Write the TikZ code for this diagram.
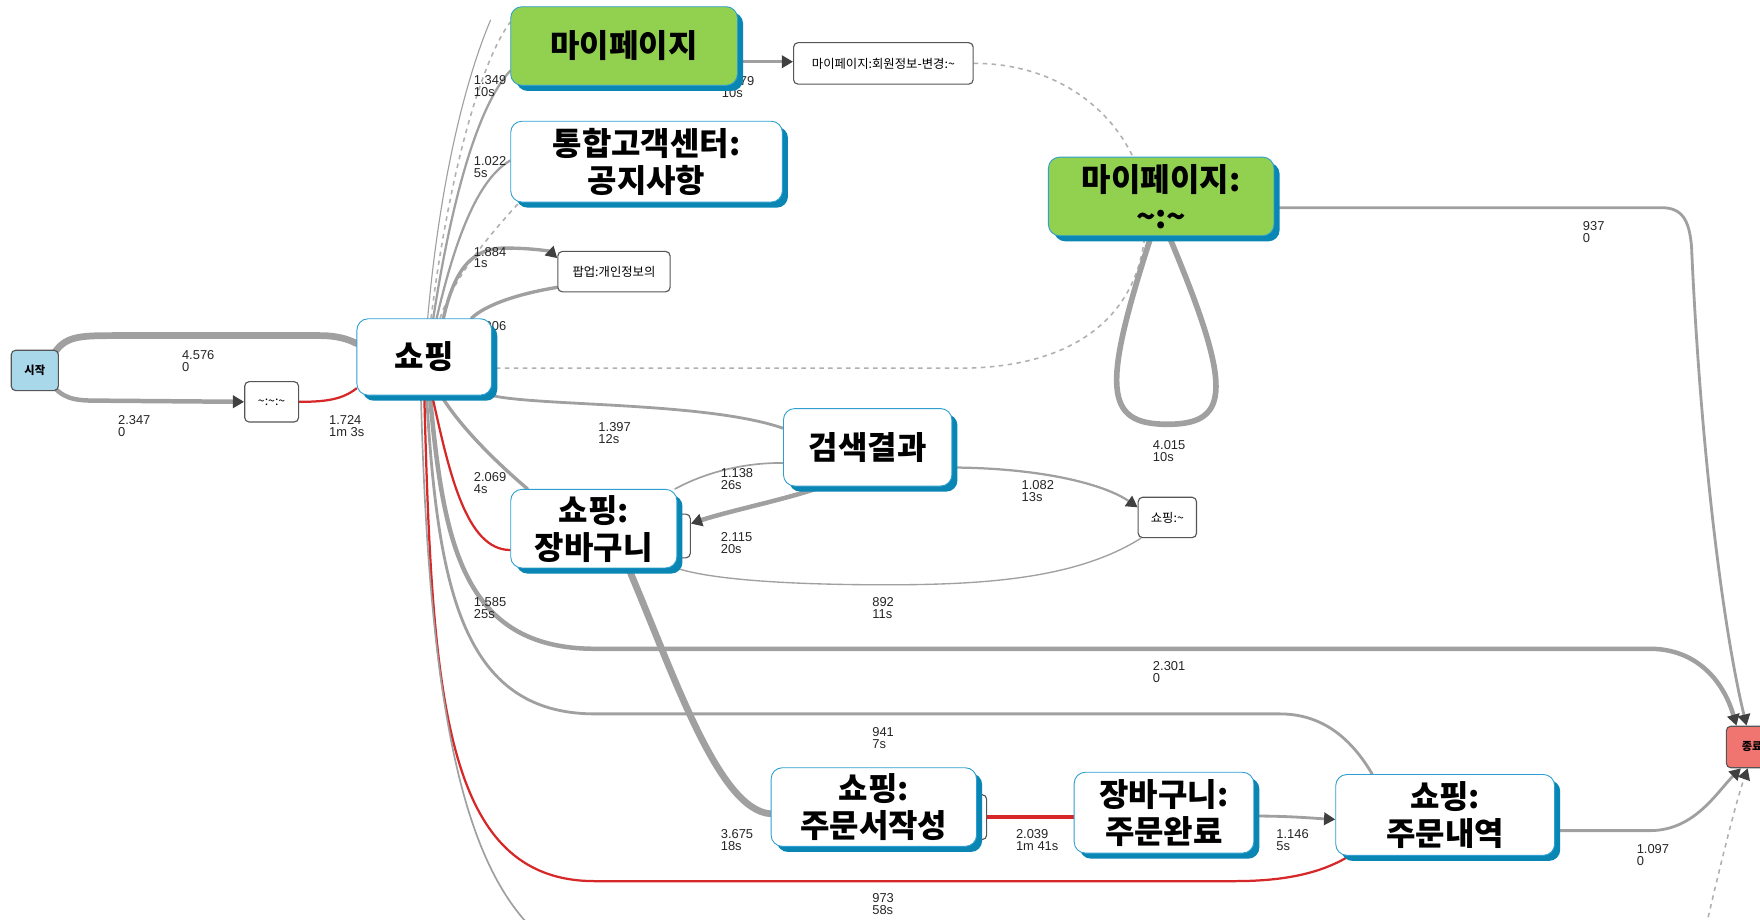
\documentclass[tikz,border=0pt]{standalone}
\usepackage{fontspec}
\setmainfont{Liberation Sans}
\newfontfamily\kr{Noto Sans CJK KR}
\usetikzlibrary{arrows.meta,shadows,backgrounds}
\definecolor{eg}{HTML}{A0A0A0}
\definecolor{dg}{HTML}{B0B0B0}
\definecolor{rd}{HTML}{D62828}
\definecolor{nb}{HTML}{2E9FD0}
\definecolor{sb}{HTML}{0A86B4}
\definecolor{gr}{HTML}{92D050}
\definecolor{st}{HTML}{A8D8EA}
\definecolor{en}{HTML}{F07470}
\definecolor{ag}{HTML}{404040}
\definecolor{bd}{HTML}{555555}
\begin{document}
\begin{tikzpicture}[x=1pt,y=-1pt,
  bignode/.style={draw=nb, line width=0.8pt, fill=white, rounded corners=10pt, align=center, inner sep=0pt,
    font=\kr\bfseries\fontsize{28.5}{33}\selectfont,
    drop shadow={shadow xshift=5pt, shadow yshift=-5pt, fill=sb, opacity=1}},
  smallnode/.style={draw=bd, line width=1pt, fill=white, rounded corners=4pt, inner sep=0pt, font=\kr\fontsize{11}{12}\selectfont},
  hid/.style={draw=bd, line width=1pt, fill=white, rounded corners=4pt, inner sep=0pt},
  startn/.style={draw=bd, line width=1pt, fill=st, rounded corners=4pt, inner sep=0pt, font=\kr\bfseries\fontsize{10}{12}\selectfont},
  endn/.style={draw=bd, line width=1pt, fill=en, rounded corners=4pt, inner sep=0pt, font=\kr\bfseries\fontsize{10}{12}\selectfont},
  e/.style={draw=eg, line cap=round},
  r/.style={draw=rd, line cap=round},
  d/.style={draw=dg, dashed, line width=1.4pt, dash pattern=on 4pt off 4pt},
  arr/.style={-{Triangle[length=10pt,width=11pt,color=ag]}},
  lbl/.style={anchor=north west, inner sep=0pt, align=left, text=black!85, font=\fontsize{11.5}{10.5}\selectfont}
]
\useasboundingbox (0,0) rectangle (1568,819);

% ---------- nodes ----------
\node[hid, minimum width=30pt, minimum height=39pt] (hid1) at (600,477.5) {};
\node[hid, minimum width=26pt, minimum height=40pt] (hid2) at (866,728) {};
\node[startn, minimum width=42pt, minimum height=36pt] (start) at (31,330) {시작};
\node[smallnode, minimum width=48pt, minimum height=36pt] (tl) at (242,358) {\textasciitilde:\textasciitilde:\textasciitilde};
\node[bignode, minimum width=120pt, minimum height=68pt] (shop) at (378,318) {쇼핑};
\node[bignode, fill=gr, minimum width=202pt, minimum height=70pt] (mypage) at (556,41) {마이페이지};
\node[bignode, minimum width=242pt, minimum height=72pt] (notice) at (576,144) {통합고객센터:\\공지사항};
\node[smallnode, minimum width=100pt, minimum height=36pt] (popup) at (547,242) {팝업:개인정보의};
\node[smallnode, minimum width=160pt, minimum height=37pt] (info) at (787,56.5) {마이페이지:회원정보-변경:\textasciitilde};
\node[bignode, fill=gr, minimum width=201pt, minimum height=70pt] (myc) at (1034.5,175) {마이페이지:\\\textasciitilde:\textasciitilde};
\node[bignode, minimum width=150pt, minimum height=69pt] (srch) at (773,398.5) {검색결과};
\node[bignode, minimum width=148pt, minimum height=70pt] (cart) at (529,471) {쇼핑:\\장바구니};
\node[smallnode, minimum width=52pt, minimum height=36pt] (sm) at (1040,461) {쇼핑:\textasciitilde};
\node[bignode, minimum width=183pt, minimum height=70pt] (ord) at (778.5,719) {쇼핑:\\주문서작성};
\node[bignode, minimum width=160pt, minimum height=72pt] (done) at (1037,724) {장바구니:\\주문완료};
\node[bignode, minimum width=195pt, minimum height=72pt] (ordh) at (1287.5,726) {쇼핑:\\주문내역};
\node[endn, minimum width=46pt, minimum height=37pt] (end) at (1561,665.5) {종료};

\begin{pgfonlayer}{background}
\fill[white] (0,0) rectangle (1568,819);
% fan above shop
\coordinate (topend) at (437,18);
\draw[e, line width=1pt] ([xshift=3pt]shop.north) .. controls (392,160) and (415,70) .. (topend);
\draw[d] ([xshift=6pt]shop.north) .. controls (398,170) and (425,60) .. ([yshift=-14pt]mypage.north west);
\draw[e, line width=2pt] ([xshift=8pt]shop.north) .. controls (402,180) and (425,95) .. ([yshift=-22pt]mypage.west);
\draw[e, line width=2pt] ([xshift=11pt]shop.north) .. controls (405,215) and (425,160) .. ([yshift=1pt]notice.west);
\draw[d] ([xshift=14pt]shop.north) .. controls (405,245) and (440,205) .. ([xshift=8pt]notice.south west);
\draw[e, line width=3pt, arr] ([xshift=17pt]shop.north) .. controls (405,240) and (420,221) .. (450,221) .. controls (475,221) and (490,224) .. ([yshift=12pt]popup.west);
\draw[e, line width=3pt] ([yshift=-14pt]popup.west) .. controls (460,262) and (432,272) .. ([xshift=42pt]shop.north);
% start
\draw[e, line width=6pt] ([xshift=-4pt,yshift=-3pt]start.north east) .. controls (58,300) and (70,299) .. (100,299) -- (285,299) .. controls (300,299) and (310,302) .. ([yshift=12pt]shop.west);
\draw[e, line width=4pt, arr] ([xshift=-4pt,yshift=3pt]start.south east) .. controls (60,357) and (70,357) .. (95,357) -- (tl.west);
\draw[r, line width=2pt] (tl.east) .. controls (290,358) and (305,356) .. ([yshift=-28pt]shop.west);
% mypage
\draw[e, line width=2.5pt, arr] ([yshift=-14pt]mypage.east) -- ([yshift=1.5pt]info.west);
\draw[d] (info.east) .. controls (950,56) and (1010,110) .. (1020,175) .. controls (1028,265) and (975,326) .. (860,328) -- ([yshift=-10pt]shop.east);
\draw[e, line width=5pt] ([xshift=-9pt]myc.south) .. controls (982,345) and (983,378) .. (1040,378) .. controls (1097,378) and (1098,345) .. ([xshift=7pt]myc.south);
\draw[e, line width=2.5pt, arr] ([yshift=-10pt]myc.east) -- (1480,185) .. controls (1498,185) and (1505,195) .. (1507,220) .. controls (1515,400) and (1535,560) .. ([xshift=-5pt]end.north);
% search area
\draw[e, line width=2.5pt] (shop.south east) .. controls (480,362) and (630,358) .. ([yshift=17pt]srch.west);
\draw[e, line width=1.5pt] ([xshift=-2pt]cart.north east) .. controls (630,420) and (665,412) .. ([yshift=-14pt]srch.west);
\draw[e, line width=4pt, arr] ([xshift=-40pt]srch.south) .. controls (700,445) and (650,455) .. ([yshift=11pt]hid1.east);
\draw[e, line width=2pt, arr] ([yshift=-18pt]srch.east) .. controls (930,417) and (985,432) .. ([yshift=9pt]sm.west);
\draw[e, line width=1.2pt] ([xshift=3pt]sm.south west) .. controls (960,515) and (880,521) .. (790,521) .. controls (690,521) and (630,515) .. (cart.south east);
% order chain
\draw[e, line width=6pt] ([xshift=31pt]cart.south) .. controls (600,600) and (640,722) .. ([yshift=-6pt]ord.west);
\draw[r, line width=4pt] (hid2.east) -- (hid2.east -| done.west);
\draw[e, line width=2.5pt, arr] ([yshift=-3pt]done.east) .. controls (1150,727) and (1170,729) .. ([yshift=-4pt]ordh.west);
\draw[e, line width=2.5pt, arr] ([yshift=-14pt]ordh.east) -- (1470,740) .. controls (1510,740) and (1530,705) .. ([xshift=-10pt]end.south);
\coordinate (dashbot) at (1520,825);
\draw[d, arr] (dashbot) .. controls (1535,760) and (1548,710) .. ([xshift=-4pt]end.south);
% fan below shop
\draw[e, line width=4pt, arr] ([xshift=5pt]shop.south) .. controls (395,480) and (410,578) .. (530,578) -- (1470,578) .. controls (1510,578) and (1535,605) .. ([xshift=-14pt]end.north);
\draw[e, line width=2.5pt] ([xshift=2pt]shop.south) .. controls (390,520) and (410,636) .. (530,636) -- (1140,636) .. controls (1180,636) and (1205,660) .. ([xshift=-65pt]ordh.north);
\draw[r, line width=2pt] (shop.south) .. controls (385,620) and (395,785) .. (530,785) -- (1100,785) .. controls (1150,785) and (1180,776) .. ([xshift=-85pt]ordh.south);
\coordinate (botexit) at (472,825);
\draw[e, line width=1.5pt] ([xshift=-3pt]shop.south) .. controls (382,620) and (410,760) .. (botexit);
\draw[r, line width=2pt] ([xshift=7pt]shop.south) .. controls (400,420) and (415,490) .. ([yshift=-19pt]cart.west);
\draw[e, line width=3pt] ([xshift=15pt]shop.south) .. controls (410,380) and (440,410) .. ([xshift=-59pt]cart.north);
% labels
\node[lbl] (l1) at (162,312) {4.576\\0};
\node[lbl] (l2) at (105,370) {2.347\\0};
\node[lbl] (l3) at (293,370) {1.724\\1m 3s};
\node[lbl] (l4) at (422,67) {1.349\\10s};
\node[lbl] (l5) at (422,139) {1.022\\5s};
\node[lbl] (l6) at (422,220) {1.884\\1s};
\node[lbl] (l7) at (422,286) {1.906};
\node[lbl] (l8) at (643,68) {1.679\\10s};
\node[lbl] (l9) at (1410,197) {937\\0};
\node[lbl] (l10) at (1027,392) {4.015\\10s};
\node[lbl] (l11) at (533,376) {1.397\\12s};
\node[lbl] (l12) at (642,417) {1.138\\26s};
\node[lbl] (l13) at (642,474) {2.115\\20s};
\node[lbl] (l14) at (910,428) {1.082\\13s};
\node[lbl] (l15) at (422,421) {2.069\\4s};
\node[lbl] (l16) at (777,532) {892\\11s};
\node[lbl] (l17) at (422,532) {1.585\\25s};
\node[lbl] (l18) at (1027,589) {2.301\\0};
\node[lbl] (l19) at (777,648) {941\\7s};
\node[lbl] (l20) at (642,739) {3.675\\18s};
\node[lbl] (l21) at (905,739) {2.039\\1m 41s};
\node[lbl] (l22) at (1137,739) {1.146\\5s};
\node[lbl] (l23) at (1458,752) {1.097\\0};
\node[lbl] (l24) at (777,796) {973\\58s};
\end{pgfonlayer}
\end{tikzpicture}
\end{document}
